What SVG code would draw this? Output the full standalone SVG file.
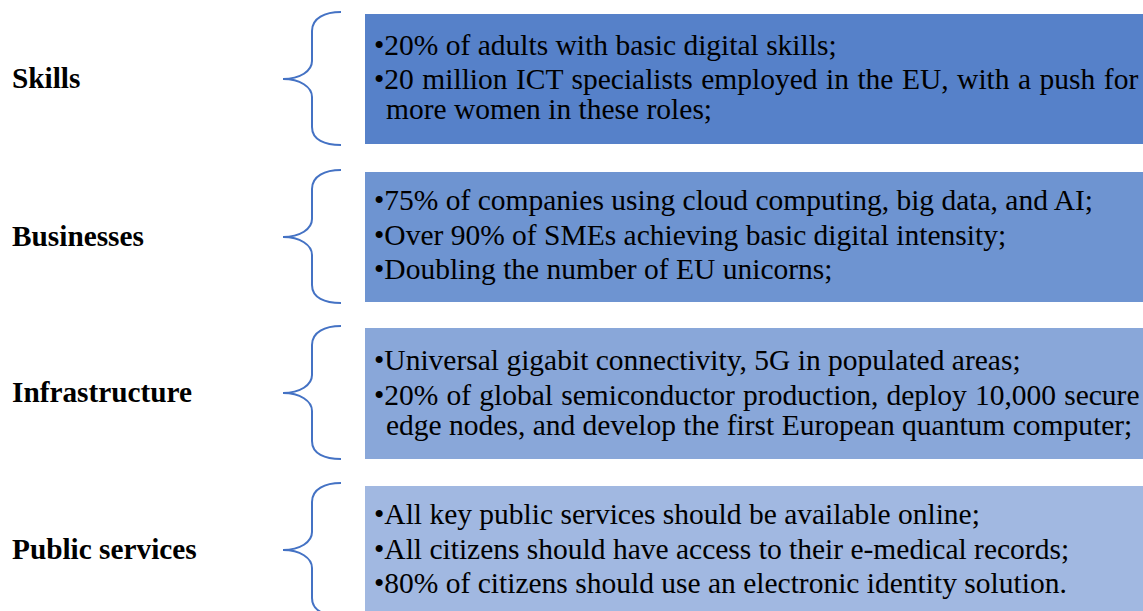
<svg xmlns="http://www.w3.org/2000/svg" width="1143" height="611" viewBox="0 0 1143 611">
<style>
.lbl{font-family:"Liberation Serif","Times New Roman",serif;font-weight:bold;font-size:29.3px;fill:#000}
.txt{font-family:"Liberation Serif","Times New Roman",serif;font-size:29.5px;fill:#000}
.brace{fill:none;stroke:#4472C4;stroke-width:2}
</style>
<defs>
<path id="br" d="M58,-67 C42,-67 29,-61 29,-48 L29,-18 C29,-8 17,0 0,0 C17,0 29,8 29,18 L29,48 C29,61 42,66 58,66"/>
</defs>
<rect width="1143" height="611" fill="#fff"/>
<g id="connectors" class="brace">
<use href="#br" x="283" y="79"/>
<use href="#br" x="283" y="237"/>
<use href="#br" x="283" y="393"/>
<use href="#br" x="283" y="550"/>
</g>
<g id="skills">
<text class="lbl" x="12" y="88">Skills</text>
<rect x="365" y="14" width="780" height="130" fill="#5681C9"/>
<text class="txt" x="374" y="55">•20% of adults with basic digital skills;</text>
<text class="txt" x="374" y="89" word-spacing="1.1">•20 million ICT specialists employed in the EU, with a push for</text>
<text class="txt" x="386" y="119">more women in these roles;</text>
</g>
<g id="businesses">
<text class="lbl" x="12" y="246">Businesses</text>
<rect x="365" y="172" width="780" height="130" fill="#6E94D1"/>
<text class="txt" x="374" y="210">•75% of companies using cloud computing, big data, and AI;</text>
<text class="txt" x="374" y="245">•Over 90% of SMEs achieving basic digital intensity;</text>
<text class="txt" x="374" y="279">•Doubling the number of EU unicorns;</text>
</g>
<g id="infrastructure">
<text class="lbl" x="12" y="402">Infrastructure</text>
<rect x="365" y="328" width="780" height="131" fill="#89A7D9"/>
<text class="txt" x="374" y="370">•Universal gigabit connectivity, 5G in populated areas;</text>
<text class="txt" x="374" y="405" word-spacing="0.8">•20% of global semiconductor production, deploy 10,000 secure</text>
<text class="txt" x="386" y="435">edge nodes, and develop the first European quantum computer;</text>
</g>
<g id="public-services">
<text class="lbl" x="12" y="559">Public services</text>
<rect x="365" y="486" width="780" height="130" fill="#A1B8E1"/>
<text class="txt" x="374" y="524">•All key public services should be available online;</text>
<text class="txt" x="374" y="559">•All citizens should have access to their e-medical records;</text>
<text class="txt" x="374" y="593">•80% of citizens should use an electronic identity solution.</text>
</g>
</svg>
